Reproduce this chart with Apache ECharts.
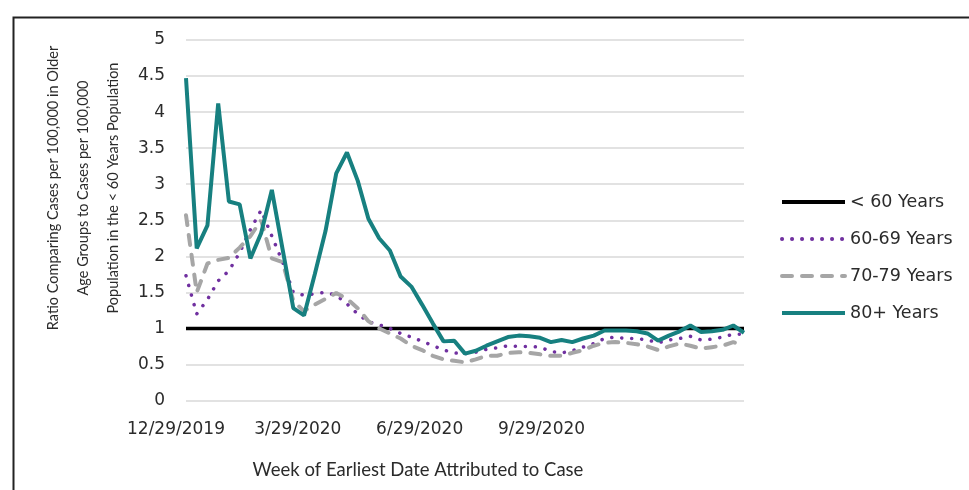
<!DOCTYPE html>
<html>
<head>
<meta charset="utf-8">
<script src="https://cdn.jsdelivr.net/npm/echarts@6/dist/echarts.min.js"></script>
<style>
html,body{margin:0;padding:0;background:#fff;}
#chart{width:969px;height:490px;}
</style>
</head>
<body>
<div id="chart"></div>
<script>
// Weekly categories (week of earliest date attributed to case)
var weeks = ['12/29/2019','1/5/2020','1/12/2020','1/19/2020','1/26/2020','2/2/2020','2/9/2020','2/16/2020','2/23/2020',
  '3/1/2020','3/8/2020','3/15/2020','3/22/2020','3/29/2020','4/5/2020','4/12/2020','4/19/2020','4/26/2020',
  '5/3/2020','5/10/2020','5/17/2020','5/24/2020','5/31/2020','6/7/2020','6/14/2020','6/21/2020','6/28/2020',
  '7/5/2020','7/12/2020','7/19/2020','7/26/2020','8/2/2020','8/9/2020','8/16/2020','8/23/2020','8/30/2020',
  '9/6/2020','9/13/2020','9/20/2020','9/27/2020','10/4/2020','10/11/2020','10/18/2020','10/25/2020',
  '11/1/2020','11/8/2020','11/15/2020','11/22/2020','11/29/2020','12/6/2020','12/13/2020','12/20/2020','12/27/2020'];

var tickLabels = ['12/29/2019', '3/29/2020', '6/29/2020', '9/29/2020'];

var under60 = [1,1,1,1,1,1,1,1,1,1,1,1,1,1,1,1,1,1,1,1,1,1,1,1,1,1,1,1,1,1,1,1,1,1,1,1,1,1,1,1,1,1,1,1,1,1,1,1,1,1,1,1,1];

var age60to69 = [1.73,1.20,1.40,1.66,1.80,2.05,2.37,2.64,2.28,1.92,1.50,1.46,1.48,1.50,1.46,1.34,1.20,1.09,1.05,1.00,
  0.93,0.88,0.82,0.76,0.70,0.66,0.65,0.67,0.71,0.73,0.76,0.75,0.75,0.74,0.68,0.66,0.69,0.74,0.79,0.86,
  0.88,0.86,0.86,0.84,0.80,0.84,0.86,0.89,0.84,0.85,0.88,0.92,0.92];

var age70to79 = [2.57,1.50,1.90,1.95,1.98,2.12,2.28,2.50,1.97,1.92,1.38,1.24,1.33,1.41,1.49,1.41,1.28,1.10,1.00,0.93,
  0.86,0.76,0.70,0.62,0.57,0.55,0.53,0.57,0.62,0.62,0.66,0.67,0.66,0.64,0.62,0.62,0.66,0.70,0.76,0.80,
  0.81,0.80,0.78,0.75,0.70,0.75,0.79,0.76,0.72,0.74,0.76,0.81,0.76];

var age80plus = [4.47,2.11,2.43,4.12,2.76,2.72,1.97,2.32,2.92,2.10,1.28,1.18,1.75,2.35,3.15,3.44,3.05,2.52,2.25,2.08,
  1.72,1.58,1.33,1.07,0.82,0.83,0.65,0.69,0.76,0.82,0.88,0.90,0.89,0.87,0.81,0.84,0.81,0.86,0.90,0.97,
  0.97,0.97,0.96,0.93,0.83,0.90,0.96,1.04,0.95,0.96,0.98,1.04,0.94];

var seriesNames = ['< 60 Years', '60-69 Years', '70-79 Years', '80+ Years'];

var yTitleLines = ['Ratio Comparing Cases per 100,000 in Older', 'Age Groups to Cases per 100,000', 'Population in the < 60 Years Population'];
var xTitle = 'Week of Earliest Date Attributed to Case';

var chart = echarts.init(document.getElementById('chart'), null, {renderer: 'canvas'});

var tickFont = 'DejaVu Sans';
var titleFont = 'Lato';
var textColor = '#2b2b2b';

var option = {
  animation: false,
  backgroundColor: '#ffffff',
  grid: [
    {left: 186, right: 225, top: 40, bottom: 89.5},
    {left: 176, width: 365.5, top: 40, bottom: 89.5}
  ],
  xAxis: [
    {
      type: 'category', gridIndex: 0, data: weeks, boundaryGap: false,
      axisLine: {show: false}, axisTick: {show: false}, axisLabel: {show: false}, splitLine: {show: false}
    },
    {
      type: 'category', gridIndex: 1, data: tickLabels, boundaryGap: false,
      axisLine: {show: false}, axisTick: {show: false}, splitLine: {show: false},
      axisLabel: {show: true, interval: 0, margin: 21, fontFamily: tickFont, fontSize: 17, color: textColor}
    }
  ],
  yAxis: [
    {
      type: 'value', gridIndex: 0, min: 0, max: 5, interval: 0.5,
      axisLine: {show: false}, axisTick: {show: false},
      axisLabel: {margin: 21, fontFamily: tickFont, fontSize: 17, color: textColor},
      splitLine: {show: true, lineStyle: {color: '#d9d9d9', width: 1.5}}
    },
    {
      type: 'value', gridIndex: 1, show: false, min: 0, max: 5
    }
  ],
  legend: {
    orient: 'vertical', left: 775, top: 187,
    itemWidth: 63, itemHeight: 20, itemGap: 17,
    itemStyle: {color: 'transparent', borderColor: 'transparent', borderWidth: 0, opacity: 0},
    lineStyle: {width: 4},
    textStyle: {fontFamily: tickFont, fontSize: 17.5, color: textColor, lineHeight: 20},
    data: seriesNames
  },
  series: [
    {
      name: seriesNames[0], type: 'line', data: under60, symbol: 'none', silent: true,
      lineStyle: {color: '#000000', width: 3.5}, itemStyle: {color: '#000000'}
    },
    {
      name: seriesNames[1], type: 'line', data: age60to69, symbol: 'none', silent: true,
      lineStyle: {color: '#7030a0', width: 3.5, type: [0.1, 9.9], cap: 'round'}, itemStyle: {color: '#7030a0'}
    },
    {
      name: seriesNames[2], type: 'line', data: age70to79, symbol: 'none', silent: true,
      lineStyle: {color: '#a6a6a6', width: 4, type: [10, 10], cap: 'round'}, itemStyle: {color: '#a6a6a6'}
    },
    {
      name: seriesNames[3], type: 'line', data: age80plus, symbol: 'none', silent: true,
      lineStyle: {color: '#178080', width: 4}, itemStyle: {color: '#178080'}
    }
  ],
  graphic: [
    {
      type: 'rect', left: 11, top: 15, silent: true,
      shape: {width: 1000, height: 520},
      style: {fill: 'none', stroke: '#222222', lineWidth: 2}
    },
    {
      type: 'text', x: 83, y: 188, rotation: Math.PI / 2, silent: true,
      style: {
        text: yTitleLines.join('\n'), fontFamily: titleFont, fontSize: 14.5, lineHeight: 30,
        fill: textColor, align: 'center', verticalAlign: 'middle'
      }
    },
    {
      type: 'text', x: 418, y: 470, silent: true,
      style: {
        text: xTitle, fontFamily: titleFont, fontSize: 18.5,
        fill: textColor, align: 'center', verticalAlign: 'middle'
      }
    }
  ]
};
chart.setOption(option);
</script>
</body>
</html>
